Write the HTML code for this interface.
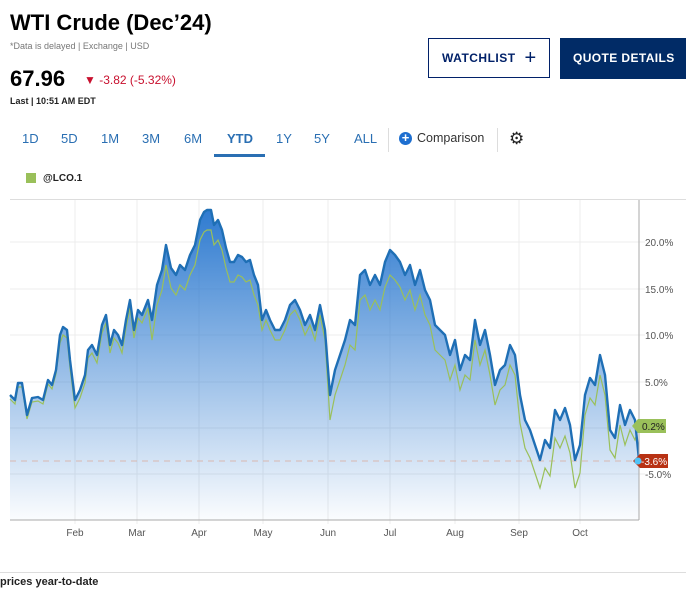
<!DOCTYPE html>
<html><head><meta charset="utf-8"><style>
body{margin:0;width:686px;height:590px;overflow:hidden;background:#fff;font-family:"Liberation Sans",Arial,sans-serif;position:relative}
.a{position:absolute;white-space:nowrap}
</style></head><body>
<div class="a" style="left:10px;top:10px;font-size:22px;font-weight:bold;color:#000">WTI Crude (Dec’24)</div>
<div class="a" style="left:10px;top:41px;font-size:9px;color:#777">*Data is delayed | Exchange | USD</div>
<div class="a" style="left:10px;top:66px;font-size:22px;font-weight:bold;color:#000">67.96</div>
<div class="a" style="left:84px;top:73px;font-size:12px;color:#c8102e">▼ -3.82 (-5.32%)</div>
<div class="a" style="left:10px;top:96px;font-size:9px;font-weight:bold;color:#222">Last | 10:51 AM EDT</div>
<div class="a" style="left:428px;top:38px;width:122px;height:40px;border:1px solid #012169;box-sizing:border-box;font-size:12px;font-weight:bold;color:#012169;line-height:38px;padding-left:13px;letter-spacing:.5px">WATCHLIST <span style="font-size:20px;font-weight:normal;vertical-align:-2px;margin-left:5px">+</span></div>
<div class="a" style="left:560px;top:38px;width:126px;height:41px;background:#012b66;color:#fff;font-size:12px;font-weight:bold;line-height:41px;padding-left:13px;box-sizing:border-box;letter-spacing:.4px">QUOTE DETAILS</div>
<div class="a" style="top:131px;font-size:13px;color:#2a6fb3;left:0;width:686px">
<span class="a" style="left:22px">1D</span><span class="a" style="left:61px">5D</span><span class="a" style="left:101px">1M</span><span class="a" style="left:142px">3M</span><span class="a" style="left:184px">6M</span><span class="a" style="left:227px;font-weight:bold">YTD</span><span class="a" style="left:276px">1Y</span><span class="a" style="left:314px">5Y</span><span class="a" style="left:354px">ALL</span>
<span class="a" style="left:399px;top:1px;width:13px;height:13px;border-radius:50%;background:#1e6fd0;color:#fff;font-size:13px;line-height:12px;text-align:center;font-weight:bold">+</span>
<span class="a" style="left:417px;color:#333;font-size:12.5px">Comparison</span>
<span class="a" style="left:509px;top:-2px;color:#222;font-size:17px">⚙</span></div>
<div class="a" style="left:214px;top:154px;width:51px;height:3px;background:#2a6fb3"></div>
<div class="a" style="left:388px;top:128px;width:1px;height:24px;background:#ddd"></div>
<div class="a" style="left:497px;top:128px;width:1px;height:24px;background:#ddd"></div>
<div class="a" style="left:26px;top:173px;width:10px;height:10px;background:#9ac05a"></div>
<div class="a" style="left:43px;top:173px;font-size:10px;font-weight:bold;color:#222">@LCO.1</div>
<div class="a" style="left:10px;top:199px;width:676px;height:1px;background:#ddd"></div>
<svg class="a" style="left:0;top:0" width="686" height="590" id="s">
<defs><linearGradient id="g" x1="0" y1="0" x2="0" y2="1"><stop offset="0" stop-color="#2f7bd0"/><stop offset="1" stop-color="#2f7bd0" stop-opacity="0.02"/></linearGradient></defs>
<g stroke="#ececec" stroke-width="1" id="grid"></g>
<path id="area" fill="url(#g)"/>
<line x1="10" x2="639" y1="461" y2="461" stroke="#d9b8b0" stroke-dasharray="6,5"/>
<path id="gr" fill="none" stroke="#9ac05a" stroke-width="1.2"/>
<path id="bl" fill="none" stroke="#1f6fb5" stroke-width="2.4" stroke-linejoin="round"/>
<line x1="639" x2="639" y1="200" y2="520" stroke="#aaa"/>
<line x1="10" x2="639" y1="520" y2="520" stroke="#aaa"/>
<g font-size="10" fill="#555" id="lab"></g>
<path d="M632,426 l6,-7 h28 v14 h-28z" fill="#9ac05a"/><text x="642" y="430" font-size="10" fill="#222">0.2%</text>
<path d="M633,461 l7,-7 h28 v14 h-28z" fill="#b83214"/><text x="641" y="465" font-size="10" fill="#fff">-3.6%</text>
<circle cx="638" cy="461" r="3.5" fill="#4fc3f7"/>
</svg>
<div class="a" style="left:0;top:572px;width:686px;height:1px;background:#ddd"></div>
<div class="a" style="left:0;top:576px;font-size:11px;font-weight:bold;color:#222">prices year-to-date</div>
<script>
var b=[[10,395],[15,400],[18,383],[22,383],[27,415],[32,398],[38,397],[43,400],[48,380],[52,385],[56,370],[60,335],[63,327],[67,330],[70,360],[75,400],[80,390],[85,375],[88,350],[92,345],[97,355],[102,325],[106,315],[110,345],[114,330],[118,335],[122,345],[126,320],[130,300],[134,330],[138,310],[142,315],[148,300],[152,320],[157,285],[162,270],[166,245],[171,268],[176,275],[180,265],[185,270],[190,255],[195,245],[200,220],[204,212],[207,210],[211,210],[214,225],[218,220],[222,230],[226,248],[230,262],[234,262],[238,255],[242,257],[246,262],[250,260],[254,275],[258,285],[262,320],[266,310],[270,320],[275,330],[280,330],[285,320],[290,305],[295,300],[300,310],[305,325],[310,315],[315,330],[320,305],[325,330],[330,395],[335,370],[340,355],[345,340],[350,320],[355,325],[360,275],[365,270],[370,285],[375,275],[380,285],[385,262],[390,250],[395,255],[400,262],[405,275],[410,265],[415,285],[420,270],[425,290],[430,300],[435,325],[440,330],[445,335],[450,355],[455,340],[460,370],[465,355],[470,360],[475,320],[480,345],[485,330],[490,355],[495,385],[500,370],[505,365],[510,345],[515,355],[520,395],[525,420],[530,430],[535,445],[540,460],[545,440],[550,448],[555,410],[560,420],[565,408],[570,425],[575,460],[580,445],[585,395],[590,378],[595,385],[600,355],[605,375],[610,430],[615,438],[620,405],[625,425],[630,410],[635,420],[639,460]];
function off(x){return x<60?4:x<150?8:x<260?20:x<330?10:x<460?25:x<520?20:x<585?28:x<636?20:0}
var d="",gd="";b.forEach(function(p,i){d+=(i?"L":"M")+p[0]+","+p[1];var y=p[0]==639?426:p[1]+off(p[0]);gd+=(i?"L":"M")+p[0]+","+y});
document.getElementById("bl").setAttribute("d",d);
document.getElementById("gr").setAttribute("d",gd);
document.getElementById("area").setAttribute("d",d+"L639,520L10,520Z");
var g="",ys=[[242,"20.0%"],[289,"15.0%"],[335,"10.0%"],[382,"5.0%"],[428,""],[474,"-5.0%"]],l="";
ys.forEach(function(v){g+='<line x1="10" x2="645" y1="'+v[0]+'" y2="'+v[0]+'"/>';if(v[1])l+='<text x="645" y="'+(v[0]+4)+'">'+v[1]+'</text>'});
[["Feb",75],["Mar",137],["Apr",199],["May",263],["Jun",328],["Jul",390],["Aug",455],["Sep",519],["Oct",580]].forEach(function(m){g+='<line x1="'+m[1]+'" x2="'+m[1]+'" y1="200" y2="524"/>';l+='<text x="'+m[1]+'" y="536" text-anchor="middle">'+m[0]+'</text>'});
document.getElementById("grid").innerHTML=g;document.getElementById("lab").innerHTML=l;
</script>
</body></html>
